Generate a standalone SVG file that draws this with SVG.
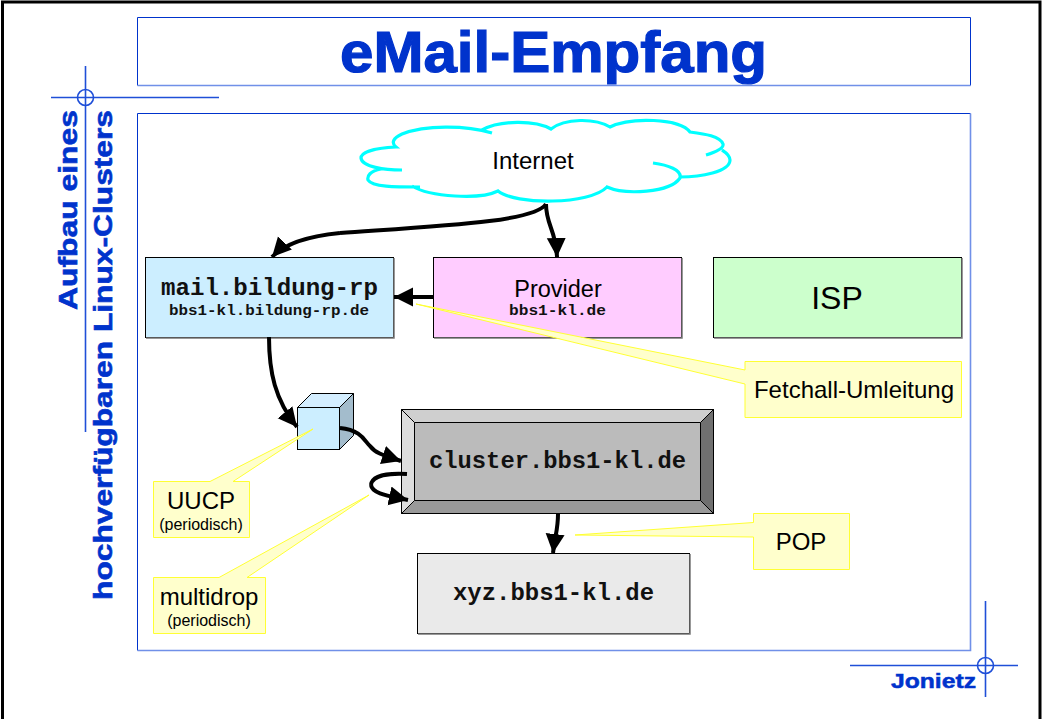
<svg xmlns="http://www.w3.org/2000/svg" width="1042" height="719" viewBox="0 0 1042 719">
<defs>
<marker id="ah" markerUnits="userSpaceOnUse" markerWidth="21" markerHeight="20" refX="19" refY="10" orient="auto"><path d="M0 0.500L19 10L0 19.500Z" fill="#000"/></marker>
</defs>
<style>
.f{stroke:#000;stroke-width:1}
.sh{fill:none;stroke:#777;stroke-width:1.5}
.c{fill:none;stroke:#000;stroke-width:4;marker-end:url(#ah)}
.n{fill:none;stroke:#000;stroke-width:4}
.b{fill:none;stroke:#0033cc;stroke-width:1}
.x{fill:none;stroke:#1f4fd8;stroke-width:1.6}
.l{fill:none;stroke:#7090e8;stroke-width:1.6}
.s{font-family:"Liberation Sans",Arial,sans-serif;fill:#000}
.m{font-family:"Liberation Mono","Courier New",monospace;font-weight:bold;fill:#111}
.co{fill:#ffffcc;stroke:#ffff33;stroke-width:1}
.bl{fill:#0033cc;stroke:#0033cc;font-family:"Liberation Sans",Arial,sans-serif;font-weight:bold}
</style>
<rect width="1042" height="719" fill="#fff"/>
<path d="M2.500 719V2H1040V719" fill="none" stroke="#000" stroke-width="3"/>
<g id="frame">
<path class="b" d="M137.500 85.500V17.500H970.500V85.500"/>
<path class="l" d="M137.500 85.500H970.500"/>
<path class="b" d="M137.500 650.500V113.500H970.500"/>
<path class="l" d="M137.500 650.500H970.500V113.500"/>
<path class="x" d="M85.500 66V432M51 97.500H219M850 665.500H1018M985.500 601V697"/>
<circle class="x" cx="85.500" cy="97.500" r="8"/>
<circle class="x" cx="985.500" cy="665.500" r="8"/>
</g>
<text id="title" class="bl" x="340" y="72" font-size="57" stroke-width="1.200" textLength="427" lengthAdjust="spacingAndGlyphs">eMail-Empfang</text>
<g id="side" class="bl" font-size="26.500" stroke-width="0.600">
<text transform="translate(77 310) rotate(-90)" textLength="200" lengthAdjust="spacingAndGlyphs">Aufbau eines</text>
<text transform="translate(112 600) rotate(-90)" textLength="490" lengthAdjust="spacingAndGlyphs">hochverfügbaren Linux-Clusters</text>
</g>
<text id="author" class="bl" x="891" y="688" font-size="21" stroke-width="0.500" textLength="85" lengthAdjust="spacingAndGlyphs">Jonietz</text>

<g id="internet">
<path d="M492 133C465 125 425 125 402 134C393 138 391 143 396 147C375 148 361 152 361 158C362 167 375 169 381 169C370 171 367 176 368 180C372 187 395 187 412 186C430 197 480 200 498 191C515 205 590 205 607 187C625 195 670 193 680 178C700 177 730 172 730 160C730 155 725 152 722 150C724 148 724 146 723 144C720 136 705 134 690 132C680 118 630 117 610 127C595 118 565 118 551 129C535 120 500 120 482 130Z" fill="#fff"/>
<path d="M492 133C465 125 425 125 402 134C393 138 391 143 396 147C375 148 361 152 361 158C362 167 385 170 402 170M381 169C370 171 367 176 368 180C372 187 395 187 420 187M412 186C430 197 480 200 498 191C515 205 590 205 607 187C625 195 670 193 680 178C682 170 668 165 653 163M680 177C700 177 730 172 730 160C730 155 725 152 722 150M706 155C716 152 724 148 723 144C720 136 705 134 690 132C680 118 630 117 610 127C595 118 565 118 551 129C535 120 500 120 482 130" fill="none" stroke="#00ffff" stroke-width="3.200"/>
<text class="s" x="533" y="169" font-size="24" text-anchor="middle">Internet</text>
</g>
<g id="mail">
<rect class="f" x="145.500" y="257.500" width="248" height="80" fill="#cceeff"/>
<path class="sh" d="M394 258V338H146"/>
<text class="m" x="161" y="295" font-size="23" textLength="217" lengthAdjust="spacingAndGlyphs">mail.bildung-rp</text>
<text class="m" x="169" y="315" font-size="14.500" textLength="200" lengthAdjust="spacingAndGlyphs">bbs1-kl.bildung-rp.de</text>
</g>
<g id="provider">
<rect class="f" x="433.500" y="257.500" width="248" height="80" fill="#ffccff"/>
<path class="sh" d="M682 258V338H434"/>
<text class="s" x="558" y="297" font-size="23.500" text-anchor="middle">Provider</text>
<text class="m" x="509" y="315" font-size="14.500" textLength="97" lengthAdjust="spacingAndGlyphs">bbs1-kl.de</text>
</g>
<g id="isp">
<rect class="f" x="713.500" y="257.500" width="248" height="80" fill="#ccffcc"/>
<path class="sh" d="M962 258V338H714"/>
<text class="s" x="837" y="309" font-size="32" text-anchor="middle">ISP</text>
</g>
<g id="queue">
<path class="f" d="M297.500 407.500L311.500 393.500H353.500L339.500 407.500Z" fill="#d4eeff"/>
<path class="f" d="M339.500 407.500L353.500 393.500V435.500L339.500 449.500Z" fill="#a3bccc"/>
<rect class="f" x="297.500" y="407.500" width="42" height="42" fill="#cceeff"/>
</g>
<g id="cluster">
<rect class="f" x="401.500" y="409.500" width="312" height="104" fill="#bbbbbb"/>
<path class="f" d="M401.500 409.500H713.500L700.500 422.500H414.500Z" fill="#cfcfcf"/>
<path class="f" d="M401.500 409.500L414.500 422.500V500.500L401.500 513.500Z" fill="#dddddd"/>
<path class="f" d="M713.500 409.500V513.500L700.500 500.500V422.500Z" fill="#707070"/>
<path class="f" d="M401.500 513.500H713.500L700.500 500.500H414.500Z" fill="#999999"/>
<text class="m" x="429" y="468" font-size="23" textLength="257" lengthAdjust="spacingAndGlyphs">cluster.bbs1-kl.de</text>
</g>
<g id="xyz">
<rect class="f" x="417.500" y="553.500" width="272" height="80" fill="#eaeaea"/>
<path class="sh" d="M690 554V634H418"/>
<text class="m" x="453" y="600" font-size="23" textLength="201" lengthAdjust="spacingAndGlyphs">xyz.bbs1-kl.de</text>
</g>
<g id="connectors">
<path class="n" d="M546 204C535 222 440 226 340 233"/>
<path class="c" d="M340 233C310 236 285 243 272 257"/>
<path class="c" d="M546 204C546 225 556 230 557 257"/>
<path class="c" d="M433 297H394"/>
<path class="c" d="M269 337C269 372 275 400 297 427"/>
<path class="c" d="M340 428C362 430 365 442 370 446C376 454 386 456 401 461"/>
<path class="n" d="M407 474C390 473 372 475 371 485"/>
<path class="c" d="M371 485C372 494 390 496 408 500"/>
<path class="c" d="M558 514C558 530 555 535 553 553"/>
</g>
<g id="callout-fetchall">
<path class="co" d="M745 370V361.500H961.500V417.500H745V384L416 304Z"/>
<text class="s" x="854" y="398" font-size="24" text-anchor="middle">Fetchall-Umleitung</text>
</g>
<g id="callout-uucp">
<path class="co" d="M153.500 481.500H210L313 429L233 481.500H249.500V537.500H153.500Z"/>
<text class="s" x="201" y="509" font-size="24" text-anchor="middle">UUCP</text>
<text class="s" x="201" y="530" font-size="16" text-anchor="middle">(periodisch)</text>
</g>
<g id="callout-multidrop">
<path class="co" d="M153.500 577.500H219L369 495L247 577.500H265.500V633.500H153.500Z"/>
<text class="s" x="209" y="605" font-size="24" text-anchor="middle">multidrop</text>
<text class="s" x="209" y="626" font-size="16" text-anchor="middle">(periodisch)</text>
</g>
<g id="callout-pop">
<path class="co" d="M753.500 513.500H849.500V569.500H753.500V537L575 535L753.500 522.500Z"/>
<text class="s" x="801" y="550" font-size="24" text-anchor="middle">POP</text>
</g>
</svg>
